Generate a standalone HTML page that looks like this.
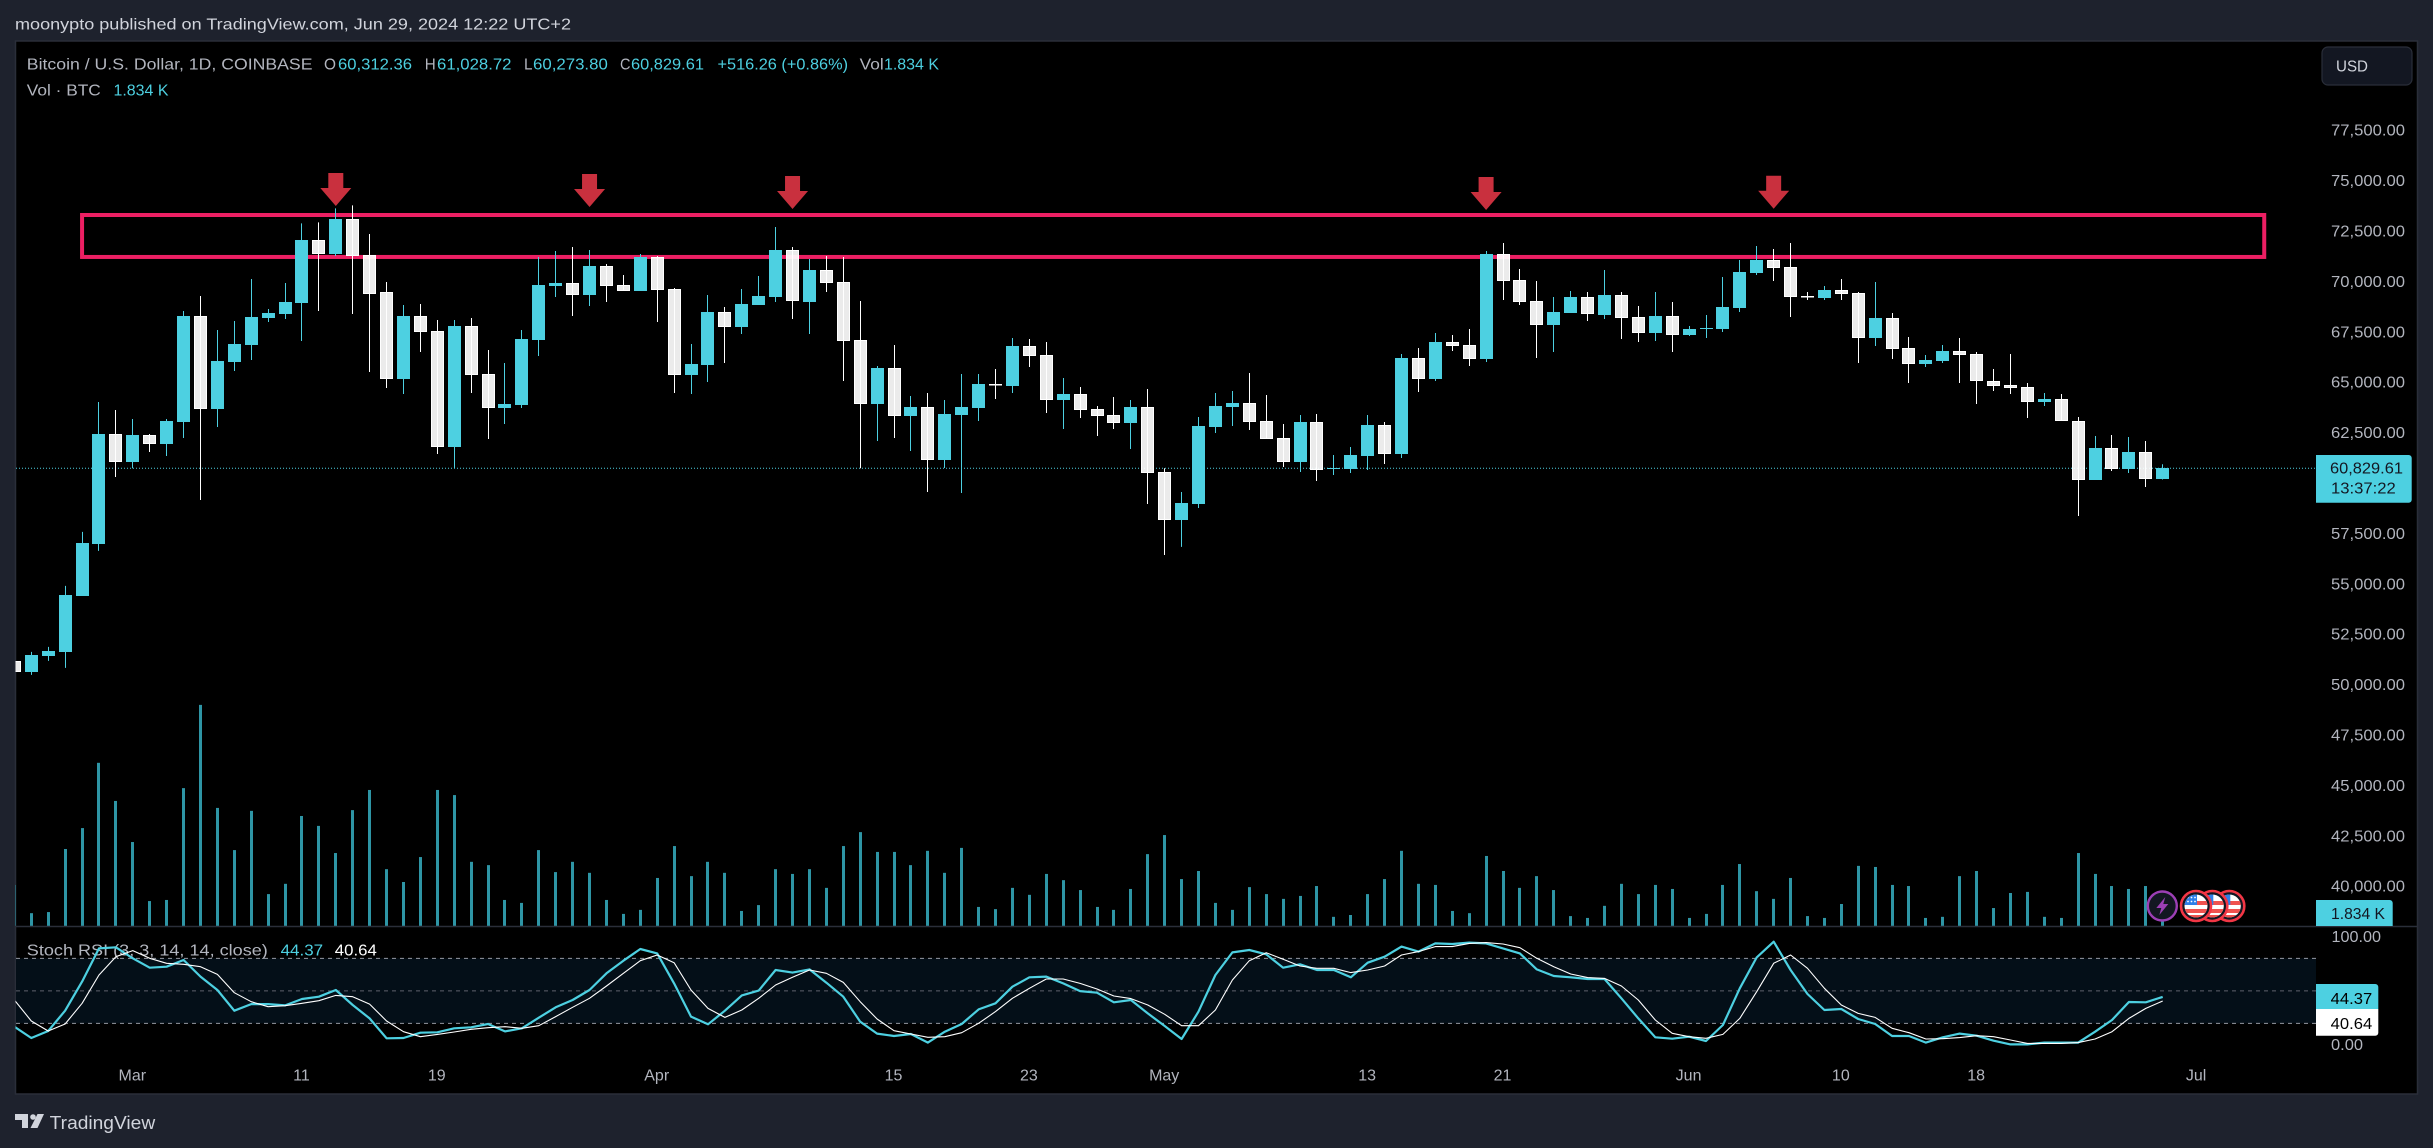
<!DOCTYPE html>
<html lang="en">
<head>
<meta charset="utf-8">
<title>BTC/USD chart</title>
<style>
html,body{margin:0;padding:0;background:#1e222d;width:2433px;height:1148px;overflow:hidden}
svg{display:block}
text{font-family:"Liberation Sans",sans-serif;font-size:16px;white-space:pre}
</style>
</head>
<body>
<svg id="chart" width="2433" height="1148" viewBox="0 0 2433 1148" xmlns="http://www.w3.org/2000/svg">
<defs>
<clipPath id="pane-clip"><rect x="15.5" y="41" width="2402" height="1053"/></clipPath>
<clipPath id="flag-clip"><circle cx="0" cy="0" r="11.5"/></clipPath>
</defs>
<rect x="0" y="0" width="2433" height="1148" fill="#1e222d"/>
<text x="15" y="29.5" fill="#d1d4dc" textLength="556" lengthAdjust="spacingAndGlyphs">moonypto published on TradingView.com, Jun 29, 2024 12:22 UTC+2</text>
<rect x="15.5" y="41" width="2402" height="1053" fill="#000" stroke="#2a2e39" stroke-width="1.5"/>

<g id="stoch-band"></g>
<g id="y-axis"></g>
<g id="zone"></g>
<g id="last-line"></g>
<g id="volumes" clip-path="url(#pane-clip)"></g>
<g id="candles" clip-path="url(#pane-clip)"></g>
<g id="arrows"></g>

<line x1="15" y1="926.5" x2="2417" y2="926.5" stroke="#2a2e39" stroke-width="1.5"/>

<g>
<text x="26.8" y="69.5" fill="#b2b5be" textLength="285.7" lengthAdjust="spacingAndGlyphs">Bitcoin / U.S. Dollar, 1D, COINBASE</text>
<text x="324" y="69.5" fill="#b2b5be" textLength="12" lengthAdjust="spacingAndGlyphs">O</text>
<text x="338" y="69.5" fill="#4dd0e1" textLength="74" lengthAdjust="spacingAndGlyphs">60,312.36</text>
<text x="424.7" y="69.5" fill="#b2b5be" textLength="11" lengthAdjust="spacingAndGlyphs">H</text>
<text x="437" y="69.5" fill="#4dd0e1" textLength="74.5" lengthAdjust="spacingAndGlyphs">61,028.72</text>
<text x="524" y="69.5" fill="#b2b5be" textLength="8.5" lengthAdjust="spacingAndGlyphs">L</text>
<text x="533" y="69.5" fill="#4dd0e1" textLength="74.8" lengthAdjust="spacingAndGlyphs">60,273.80</text>
<text x="620" y="69.5" fill="#b2b5be" textLength="10.5" lengthAdjust="spacingAndGlyphs">C</text>
<text x="631" y="69.5" fill="#4dd0e1" textLength="73" lengthAdjust="spacingAndGlyphs">60,829.61</text>
<text x="717.5" y="69.5" fill="#4dd0e1" textLength="130.5" lengthAdjust="spacingAndGlyphs">+516.26 (+0.86%)</text>
<text x="859.7" y="69.5" fill="#b2b5be" textLength="24" lengthAdjust="spacingAndGlyphs">Vol</text>
<text x="884" y="69.5" fill="#4dd0e1" textLength="55" lengthAdjust="spacingAndGlyphs">1.834 K</text>
<text x="26.8" y="95.5" fill="#b2b5be" textLength="74" lengthAdjust="spacingAndGlyphs">Vol · BTC</text>
<text x="113.5" y="95.5" fill="#4dd0e1" textLength="55" lengthAdjust="spacingAndGlyphs">1.834 K</text>
</g>

<g>
<text x="26.8" y="955.5" fill="#b2b5be" textLength="241" lengthAdjust="spacingAndGlyphs">Stoch RSI (3, 3, 14, 14, close)</text>
<text x="280.6" y="955.5" fill="#4dd0e1" textLength="42.5" lengthAdjust="spacingAndGlyphs">44.37</text>
<text x="334.8" y="955.5" fill="#ffffff" textLength="42" lengthAdjust="spacingAndGlyphs">40.64</text>
</g>

<g id="stoch-lines" clip-path="url(#pane-clip)"></g>

<g>
<rect x="2322" y="47" width="90" height="38" rx="6" fill="#131722" stroke="#2a2e39" stroke-width="1.2"/>
<text x="2336" y="71.5" fill="#d1d4dc" textLength="32" lengthAdjust="spacingAndGlyphs">USD</text>
</g>

<g>
<path d="M2316 455H2408.7a3 3 0 0 1 3 3V499.7a3 3 0 0 1 -3 3H2316Z" fill="#4dd0e1"/>
<text x="2330" y="473.3" fill="#131722" textLength="73" lengthAdjust="spacingAndGlyphs">60,829.61</text>
<text x="2331" y="493.3" fill="#131722" textLength="64.7" lengthAdjust="spacingAndGlyphs">13:37:22</text>
</g>
<g>
<path d="M2316 900H2389.7a3 3 0 0 1 3 3V926H2316Z" fill="#4dd0e1"/>
<text x="2331" y="919" fill="#131722" textLength="54" lengthAdjust="spacingAndGlyphs">1.834 K</text>
</g>
<g>
<text x="2331.5" y="942.2" fill="#b2b5be" textLength="49.5" lengthAdjust="spacingAndGlyphs">100.00</text>
<text x="2331" y="1050" fill="#b2b5be" textLength="32" lengthAdjust="spacingAndGlyphs">0.00</text>
<path d="M2316 984H2375.3a3 3 0 0 1 3 3V1009H2316Z" fill="#4dd0e1"/>
<text x="2330.7" y="1004" fill="#000" textLength="41.5" lengthAdjust="spacingAndGlyphs">44.37</text>
<path d="M2316 1009H2378.3V1032.7a3 3 0 0 1 -3 3H2316Z" fill="#fff"/>
<text x="2330.7" y="1029" fill="#000" textLength="41.5" lengthAdjust="spacingAndGlyphs">40.64</text>
</g>

<g id="x-axis"></g>

<g transform="translate(2229.3 906)">
<circle r="15" fill="#131722" stroke="#f23645" stroke-width="2.6"/>
<g clip-path="url(#flag-clip)">
<rect x="-12" y="-12" width="24" height="24" fill="#fff"/>
<rect x="-12" y="-5" width="24" height="4" fill="#f0524f"/><rect x="-12" y="3" width="24" height="4" fill="#f0524f"/><rect x="-12" y="9" width="24" height="4" fill="#f0524f"/>
<rect x="-12" y="-12" width="13" height="11" fill="#2f7fe8"/>
</g>
</g>
<g transform="translate(2212.3 906)">
<circle r="15" fill="#131722" stroke="#f23645" stroke-width="2.6"/>
<g clip-path="url(#flag-clip)">
<rect x="-12" y="-12" width="24" height="24" fill="#fff"/>
<rect x="-12" y="-5" width="24" height="4" fill="#f0524f"/><rect x="-12" y="3" width="24" height="4" fill="#f0524f"/><rect x="-12" y="9" width="24" height="4" fill="#f0524f"/>
<rect x="-12" y="-12" width="13" height="11" fill="#2f7fe8"/>
</g>
</g>
<g transform="translate(2196 906)">
<circle r="15" fill="#131722" stroke="#f23645" stroke-width="2.6"/>
<g clip-path="url(#flag-clip)">
<rect x="-12" y="-12" width="24" height="24" fill="#fff"/>
<rect x="-12" y="-5" width="24" height="4" fill="#f0524f"/><rect x="-12" y="3" width="24" height="4" fill="#f0524f"/><rect x="-12" y="9" width="24" height="4" fill="#f0524f"/>
<rect x="-12" y="-12" width="13" height="11" fill="#2f7fe8"/>
<g fill="#fff"><circle cx="-8" cy="-8.5" r="0.9"/><circle cx="-4.5" cy="-8.5" r="0.9"/><circle cx="-1" cy="-8.5" r="0.9"/><circle cx="-8" cy="-4.5" r="0.9"/><circle cx="-4.5" cy="-4.5" r="0.9"/><circle cx="-1" cy="-4.5" r="0.9"/></g>
</g>
</g>
<g transform="translate(2162.3 906)">
<circle r="14.5" fill="#131722" stroke="#9c3fb5" stroke-width="2.4"/>
<polygon points="3,-9 -6,2 -1,2 -3,9 6,-2 1,-2" fill="#9c3fb5"/>
</g>

<g>
<path d="M15 1114h13v14h-6v-8h-7z" fill="#d1d4dc"/>
<circle cx="33" cy="1117" r="2.8" fill="#d1d4dc"/>
<polygon points="37.5,1114 44,1114 37.5,1128 30.5,1128" fill="#d1d4dc"/>
<text x="49.7" y="1129" fill="#d1d4dc" style="font-size:18px" textLength="105.5" lengthAdjust="spacingAndGlyphs">TradingView</text>
</g>
</svg>

<script>
const opens=[51276,50730,51524,51722,54499,57078,62533,61144,62483,62037,63128,68384,63772,66103,66946,68285,68483,69029,72153,71459,73194,71409,69574,65260,68384,67640,61888,67888,65508,63822,63971,67194,69872,70021,69426,70864,69922,69624,71310,69723,65458,65954,68583,67839,68930,69326,71657,69078,70665,70070,67194,64020,65806,63425,63872,61243,63475,63822,65012,64913,66897,66450,64219,64516,63772,63475,63078,63872,60648,58268,59061,62880,63872,64070,63177,62334,61144,63128,60797,60797,61442,62979,61541,66301,65260,67095,66946,66252,71459,70169,69128,67938,68533,69326,68434,69426,68335,67541,68384,67442,67740,67740,68781,70517,71161,70814,69376,69277,69674,69525,67293,68285,66797,66004,66153,66649,66500,65161,64963,64863,64119,64268,63177,60251,61838,60797,61640,60312.36];
const highs=[51358,51722,51970,54995,57673,64119,63723,63276,62533,63276,68632,69376,67690,68136,70219,68731,70021,72980,73029,73723,73872,72451,70070,68930,68979,68186,68186,68285,66698,66053,67690,71310,71608,71806,71657,70963,70417,71459,71360,69773,66996,69426,68831,69723,70368,72798,71806,71211,71360,71310,69128,65905,66946,64417,64566,64219,65508,65508,65756,67293,67244,67095,65310,64863,63921,64367,64219,64764,60830,59656,63376,64566,64665,65558,64467,63028,63475,63524,61491,61888,63475,63128,66500,66797,67541,67442,67740,71608,72004,70715,70120,69326,69624,69574,70665,69574,68880,69574,69078,67888,68434,70318,71161,71856,71707,72004,69574,69872,70219,69574,70070,68533,67343,66450,66946,67293,66599,65756,66500,65062,64566,64516,63376,62433,62483,62384,62185,61028.72];
const lows=[50581,50581,51276,50929,54499,56731,60400,60830,61640,61442,62334,59260,62880,65657,66202,68087,68235,67144,68632,71360,68483,65607,64814,64516,66599,61541,60830,64566,62285,63028,63822,66401,69326,68384,68880,69078,69624,69624,68087,64566,64516,65111,66053,67492,68930,69078,68235,67492,69574,65161,60830,62185,62334,61690,59656,60846,59607,63177,64268,64566,65855,63574,62781,63326,62433,62781,61789,59061,56532,56929,58863,62582,62929,62731,62285,60896,60648,60202,60499,60599,60747,61045,61342,64615,65161,66649,65905,66103,69178,68930,66301,66599,68533,68136,68235,67244,67095,67144,66599,67393,67293,67591,68583,70417,70120,68335,69178,69178,69178,66053,66897,66252,65062,65855,66053,65062,64020,64665,64516,63326,63921,63177,58466,60251,60698,60599,59904,60273.80];
const closes=[50730,51573,51772,54549,57127,62533,61144,62483,62037,63177,68384,63772,66153,66996,68335,68533,69078,72153,71459,73194,71360,69475,65260,68384,67591,61888,67888,65458,63822,64020,67244,69922,70021,69426,70864,69872,69624,71310,69674,65458,66004,68583,67839,68979,69376,71657,69128,70665,70021,67144,64020,65806,63425,63872,61243,63524,63872,65012,64963,66897,66401,64219,64516,63723,63425,63078,63872,60599,58268,59111,62929,63921,64070,63128,62285,61144,63128,60747,60846,61491,62979,61541,66301,65260,67095,66897,66252,71459,70120,69078,67938,68583,69326,68483,69426,68285,67541,68384,67442,67740,67789,68831,70566,71161,70765,69326,69326,69674,69475,67293,68285,66748,66004,66202,66649,66450,65161,64913,64814,64119,64268,63177,60251,61838,60797,61640,60301,60829.61];
const volumes=[11.2,3.5,3.8,21,26.7,44.5,34.1,22.9,6.8,7.1,37.6,60.3,32.2,20.7,31.4,8.7,11.5,30,27.3,19.9,31.6,37.1,15.5,12,18.8,37.1,35.7,17.5,16.6,7.1,6.3,20.7,14.7,17.5,14.5,7.1,3.3,4.4,13.1,21.8,13.6,17.5,14.5,4.1,5.7,15.5,14.2,15.5,10.4,21.8,25.6,20.2,20.2,16.6,20.5,14.5,21.3,5.2,4.6,10.4,8.5,14.2,12.5,9.8,5.2,4.4,10.1,19.6,24.8,12.8,15,6.3,4.4,10.6,8.7,7.4,8.2,10.9,2.5,3,8.7,12.8,20.5,11.5,11.2,4.1,3.5,19.1,15,10.4,13.6,9.8,2.7,2.2,5.5,11.5,8.7,11.2,10.1,2.2,3.3,11.2,16.9,9.5,7.4,13.1,2.7,2.2,6,16.4,16.1,11.2,10.9,2.2,2.5,13.6,15,4.9,9,9.3,2.5,2.2,19.9,14.2,10.9,10.1,10.9,1.834];
const stochK=[16.9,6.5,12.9,31.7,58.5,89.2,90.2,80,71.4,72.3,78.5,63.1,50.8,31.7,37.8,37.8,36.6,42.5,44.6,50.8,36.9,24.6,6.2,6.5,11.4,11.7,15.4,16.3,19.4,12.6,15.4,25.2,34.8,41.5,50.8,66.2,77.8,88.6,84.6,56.9,26.2,19.1,31.7,45.8,50.2,69.2,66.8,69.8,57.5,44.6,21.5,10.5,8.3,10.2,2.2,12.3,19.4,32.9,38.5,53.8,62.5,63.1,56.9,49.8,48.3,39.4,41.5,29.2,17.5,5.5,30.8,64.6,85.5,87.7,83.7,71.4,74.5,69.2,69.2,62.5,76,81.5,90.8,86.2,93.8,93.2,94.5,93.8,89.2,84.6,69.8,63.7,62.5,60.9,60.9,43.1,24.6,7.1,5.8,7.7,3.7,18.5,52.3,80.9,95.4,69.2,47.1,32.3,33.2,24,19.4,8.3,8.3,2.2,7.1,10.5,8.6,4,0.6,0.6,2.2,2.2,2.2,12.3,23.1,39.7,39.4,44.37];
const stochD=[41.5,22.2,12.9,19.4,38.5,64.6,81.5,87.1,80,75.4,74.5,72.3,65.2,48.3,40,35.4,36.3,38.5,40.9,45.8,44.6,37.8,22.2,12.3,7.7,9.8,12,14.5,16,16.9,15.4,17.8,26.2,34.8,43.1,54.5,66.2,77.8,83.1,76,50.8,33.8,25.5,32.3,43.1,55.4,62.5,69.2,66.2,57.8,40,24,13.2,10.2,7.1,7.7,11.4,20,30.8,43.1,52.3,60.9,60.9,56.9,51.7,45.2,42.8,36.9,28.3,17.8,17.8,32.3,60,77.8,85.2,79.1,72.9,70.8,70.8,66.8,69.2,72.9,83.1,86.2,90.8,90.8,93.8,94.5,93.2,89.8,80,72.3,65.5,62.2,61.5,54.5,41.5,23.1,10.8,7.7,6.2,9.8,24.6,49.2,75.4,83.1,70.8,52.3,36.9,29.2,25.5,15.4,11.4,5.5,5.8,6.8,8.6,7.7,4.6,1.5,1.5,1.5,2.2,5.5,12.3,24.6,33.8,40.64];
const priceTicks=[77500,75000,72500,70000,67500,65000,62500,57500,55000,52500,50000,47500,45000,42500,40000];
const timeLabels=["Mar","11","19","Apr","15","23","May","13","21","Jun","10","18","Jul"];
const timeLabelBars=[7,17,25,38,52,60,68,80,88,99,108,116,129];
const arrowBars=[19,34,46,87,104];
const arrowTipPrices=[73840,73790,73690,73640,73706];
const zoneBars=[4,133];
const zonePrices=[73394,71313];
const stochLevels=[80,50,20];
const lastPrice=60829.61;

const NS='http://www.w3.org/2000/svg';
const UP='#4dd0e1';
function xAt(i){return 14.4+16.916*i;}
function yPrice(p){return 468.3-(p-60829.61)*0.02016;}
function yVol(v){return 926-v*3.667;}
function yStoch(v){return 1045-v*1.0833;}
function make(tag,parent,attrs){
  const el=document.createElementNS(NS,tag);
  for(const k in attrs){el.setAttribute(k,attrs[k]);}
  parent.appendChild(el);
  return el;
}
function money(p){return p.toLocaleString('en-US',{minimumFractionDigits:2,maximumFractionDigits:2});}

/* stochastic band and level lines */
const bandG=document.getElementById('stoch-band');
const band=make('rect',bandG,{x:16,y:yStoch(stochLevels[0]),width:2300,height:yStoch(stochLevels[2])-yStoch(stochLevels[0]),fill:'#040f18'});


stochLevels.forEach(function(lv){
  const mid=lv===50;
  const ln=make('line',bandG,{x1:16,x2:2316,y1:yStoch(lv),y2:yStoch(lv),stroke:mid?'#5d606b':'#9598a1','stroke-width':1,'stroke-dasharray':'4 4'});
  
  
});

/* price axis */
const yAxis=document.getElementById('y-axis');
priceTicks.forEach(function(p){
  const t=make('text',yAxis,{x:2405,y:yPrice(p)+3.5,fill:'#b2b5be','text-anchor':'end',textLength:74,lengthAdjust:'spacingAndGlyphs'});
  
  
  t.textContent=money(p);
});

/* resistance zone */
const zoneG=document.getElementById('zone');
const zone=make('rect',zoneG,{x:xAt(zoneBars[0]),y:yPrice(zonePrices[0]),width:xAt(zoneBars[1])-xAt(zoneBars[0]),height:yPrice(zonePrices[1])-yPrice(zonePrices[0]),fill:'none',stroke:'#ec1f63','stroke-width':4});



/* last price line */
const lastG=document.getElementById('last-line');
const lastLn=make('line',lastG,{x1:16,x2:2316,y1:yPrice(lastPrice),y2:yPrice(lastPrice),stroke:UP,'stroke-width':1,'stroke-dasharray':'1 2'});



/* volume bars */
const volG=document.getElementById('volumes');
volumes.forEach(function(v,i){
  const top=yVol(v);
  const r=make('rect',volG,{x:Math.round(xAt(i)-1.5),y:top,width:3,height:926-top,fill:'#2e95a5'});
  
  
});

/* candles */
const candleG=document.getElementById('candles');
opens.forEach(function(o,i){
  const c=closes[i],up=c>=o;
  const g=make('g',candleG,{});
  
  
  const cx=Math.floor(xAt(i))+0.5;
  const wick=make('line',g,{x1:cx,x2:cx,y1:yPrice(highs[i]),y2:yPrice(lows[i]),stroke:up?UP:'#fff','stroke-width':1});
  
  
  const top=Math.round(yPrice(Math.max(o,c)));
  const bot=Math.round(yPrice(Math.min(o,c)));
  const h=Math.max(bot-top,1);
  const left=Math.round(xAt(i)-6.5);
  const attrs=up?{x:left,y:top,width:13,height:h,fill:UP}:{x:left+0.5,y:top+0.5,width:12,height:Math.max(h-1,0.5),fill:'rgba(255,255,255,.92)',stroke:'#fff','stroke-width':1};
  const body=make('rect',g,attrs);
  
  
});

/* arrows */
const arrowG=document.getElementById('arrows');
arrowBars.forEach(function(b,i){
  const cx=xAt(b),tip=yPrice(arrowTipPrices[i]);
  const pts=[[cx-7.5,tip-33],[cx+7.5,tip-33],[cx+7.5,tip-18],[cx+15.5,tip-18],[cx,tip],[cx-15.5,tip-18],[cx-7.5,tip-18]].map(function(q){return q.join(',');}).join(' ');
  const a=make('polygon',arrowG,{points:pts,fill:'#c9303e'});
  
  
});

/* stochastic lines */
const stochG=document.getElementById('stoch-lines');
function series(arr){return arr.map(function(v,i){return xAt(i).toFixed(1)+','+yStoch(v).toFixed(1);}).join(' ');}
const lineK=make('polyline',stochG,{points:series(stochK),fill:'none',stroke:UP,'stroke-width':2.2,'stroke-linejoin':'round'});


const lineD=make('polyline',stochG,{points:series(stochD),fill:'none',stroke:'#fff','stroke-width':1.1,'stroke-linejoin':'round'});



/* time axis */
const xAxis=document.getElementById('x-axis');
timeLabels.forEach(function(lbl,i){
  const t=make('text',xAxis,{x:xAt(timeLabelBars[i])-0.5,y:1080.5,fill:'#b2b5be','text-anchor':'middle'});
  
  
  t.textContent=lbl;
});
</script>
</body>
</html>
